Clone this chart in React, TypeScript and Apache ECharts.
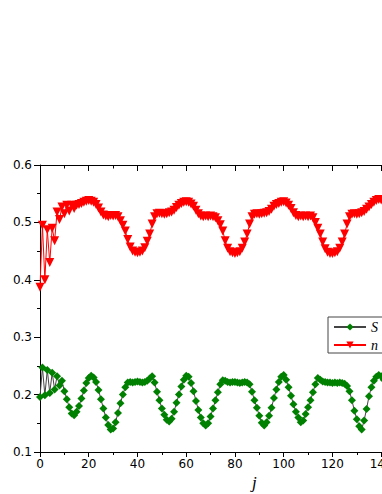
import React, { useEffect, useRef } from "react";
import * as echarts from "echarts";

const jValues: number[] = Array.from({ length: 145 }, (_, i) => i);

const sValues: number[] = [
  0.196, 0.247, 0.199, 0.243, 0.203, 0.238, 0.209, 0.232, 0.216, 0.224,
  0.206, 0.192, 0.178, 0.167, 0.164, 0.170, 0.180, 0.193, 0.207, 0.220,
  0.229, 0.233, 0.230, 0.222, 0.208, 0.192, 0.176, 0.160, 0.147, 0.139,
  0.141, 0.152, 0.168, 0.185, 0.200, 0.213, 0.221, 0.222, 0.221, 0.222,
  0.223, 0.222, 0.221, 0.222, 0.224, 0.228, 0.232, 0.221, 0.205, 0.190,
  0.176, 0.165, 0.156, 0.153, 0.158, 0.170, 0.186, 0.200, 0.214, 0.226,
  0.233, 0.231, 0.220, 0.206, 0.189, 0.173, 0.160, 0.150, 0.146, 0.150,
  0.162, 0.176, 0.190, 0.204, 0.218, 0.225, 0.224, 0.222, 0.221, 0.222,
  0.222, 0.221, 0.220, 0.221, 0.222, 0.221, 0.218, 0.205, 0.190, 0.177,
  0.163, 0.151, 0.146, 0.152, 0.163, 0.177, 0.194, 0.209, 0.222, 0.231,
  0.234, 0.226, 0.213, 0.198, 0.183, 0.170, 0.160, 0.152, 0.155, 0.166,
  0.178, 0.190, 0.204, 0.218, 0.229, 0.226, 0.223, 0.222, 0.221, 0.221,
  0.220, 0.221, 0.220, 0.221, 0.220, 0.219, 0.215, 0.206, 0.190, 0.172,
  0.157, 0.145, 0.139, 0.155, 0.175, 0.197, 0.213, 0.224, 0.231, 0.234,
  0.232, 0.226, 0.214, 0.200, 0.186,
];

const nValues: number[] = [
  0.387, 0.495, 0.400, 0.487, 0.430, 0.490, 0.468, 0.518, 0.505, 0.527,
  0.515, 0.530, 0.520, 0.530, 0.524, 0.530, 0.531, 0.533, 0.535, 0.537,
  0.538, 0.537, 0.535, 0.531, 0.525, 0.518, 0.513, 0.511, 0.510, 0.512,
  0.511, 0.512, 0.510, 0.503, 0.495, 0.485, 0.470, 0.457, 0.450, 0.448,
  0.447, 0.448, 0.450, 0.456, 0.467, 0.480, 0.497, 0.510, 0.515, 0.516,
  0.515, 0.514, 0.515, 0.517, 0.518, 0.521, 0.526, 0.530, 0.533, 0.535,
  0.536, 0.535, 0.532, 0.528, 0.521, 0.515, 0.511, 0.510, 0.511, 0.510,
  0.511, 0.510, 0.508, 0.503, 0.496, 0.485, 0.468, 0.455, 0.449, 0.447,
  0.446, 0.447, 0.449, 0.455, 0.466, 0.480, 0.497, 0.510, 0.514, 0.515,
  0.514, 0.515, 0.516, 0.517, 0.519, 0.523, 0.528, 0.531, 0.533, 0.535,
  0.536, 0.534, 0.530, 0.524, 0.517, 0.512, 0.510, 0.511, 0.510, 0.511,
  0.510, 0.511, 0.508, 0.500, 0.490, 0.480, 0.466, 0.454, 0.448, 0.446,
  0.446, 0.447, 0.449, 0.455, 0.466, 0.480, 0.497, 0.510, 0.514, 0.515,
  0.514, 0.515, 0.517, 0.519, 0.523, 0.527, 0.531, 0.535, 0.538, 0.540,
  0.539, 0.537, 0.533, 0.528, 0.521,
];

const seriesNames: string[] = ["S", "n"];
const xTickInterval = 20;
const yTicks: number[] = [0.1, 0.2, 0.3, 0.4, 0.5, 0.6];

export default function App() {
  const ref = useRef<HTMLDivElement>(null);

  useEffect(() => {
    if (!ref.current) return;
    const chart = echarts.init(ref.current, null, { renderer: "svg" });
    const labelFont = { color: "#000", fontFamily: "DejaVu Sans", fontSize: 12 };
    chart.setOption({
      animation: false,
      backgroundColor: "#fff",
      grid: { left: 40, top: 165, width: 367.5, height: 287, containLabel: false },
      xAxis: [
        {
          type: "value",
          position: "bottom",
          min: 0,
          max: 150,
          interval: xTickInterval,
          axisLine: { show: true, onZero: false, lineStyle: { color: "#000", width: 1 } },
          axisTick: { show: true, inside: false, length: 5, lineStyle: { color: "#000" } },
          minorTick: { show: true, splitNumber: 2, length: 3, lineStyle: { color: "#000" } },
          splitLine: { show: false },
          axisLabel: { ...labelFont, margin: 6 },
        },
        {
          type: "value",
          position: "top",
          min: 0,
          max: 150,
          interval: xTickInterval,
          axisLine: { show: true, onZero: false, lineStyle: { color: "#000", width: 1 } },
          axisTick: { show: true, inside: true, length: 6, lineStyle: { color: "#000" } },
          minorTick: { show: true, splitNumber: 2, length: 3.5, lineStyle: { color: "#000" } },
          splitLine: { show: false },
          axisLabel: { show: false },
        },
      ],
      yAxis: {
        type: "value",
        min: yTicks[0],
        max: yTicks[yTicks.length - 1],
        interval: 0.1,
        axisLine: { show: true, onZero: false, lineStyle: { color: "#000", width: 1 } },
        axisTick: { show: true, inside: false, length: 6, lineStyle: { color: "#000" } },
        minorTick: { show: true, splitNumber: 2, length: 3, lineStyle: { color: "#000" } },
        splitLine: { show: false },
        axisLabel: { ...labelFont, margin: 8, formatter: (v: number) => v.toFixed(1) },
      },
      legend: {
        orient: "vertical",
        left: 328,
        top: 317,
        padding: [3, 30, 1, 5],
        itemWidth: 32,
        itemHeight: 9,
        itemGap: 4,
        borderColor: "#444",
        borderWidth: 1,
        backgroundColor: "#fff",
        textStyle: {
          color: "#000",
          fontFamily: "Liberation Serif",
          fontStyle: "italic",
          fontSize: 14,
          lineHeight: 14,
        },
        data: seriesNames,
      },
      series: [
        {
          name: seriesNames[0],
          type: "line",
          data: jValues.map((j, i) => [j, sValues[i]]),
          symbol: "diamond",
          symbolSize: 8,
          itemStyle: { color: "#008000" },
          lineStyle: { color: "#444", width: 1 },
          z: 2,
        },
        {
          name: seriesNames[1],
          type: "line",
          data: jValues.map((j, i) => [j, nValues[i]]),
          symbol: "triangle",
          symbolRotate: 180,
          symbolSize: 9,
          itemStyle: { color: "#ff0000" },
          lineStyle: { color: "#ff0000", width: 1 },
          z: 3,
        },
      ],
      graphic: [
        {
          type: "text",
          left: 252,
          top: 474,
          style: {
            text: "j",
            fontFamily: "Liberation Serif",
            fontStyle: "italic",
            fontSize: 17,
            fill: "#000",
          },
        },
      ],
    });
    return () => chart.dispose();
  }, []);

  return (
    <div
      style={{
        position: "fixed",
        left: 0,
        top: 0,
        width: 382,
        height: 494,
        overflow: "hidden",
        background: "#fff",
      }}
    >
      <div ref={ref} style={{ width: 420, height: 494 }} />
    </div>
  );
}
